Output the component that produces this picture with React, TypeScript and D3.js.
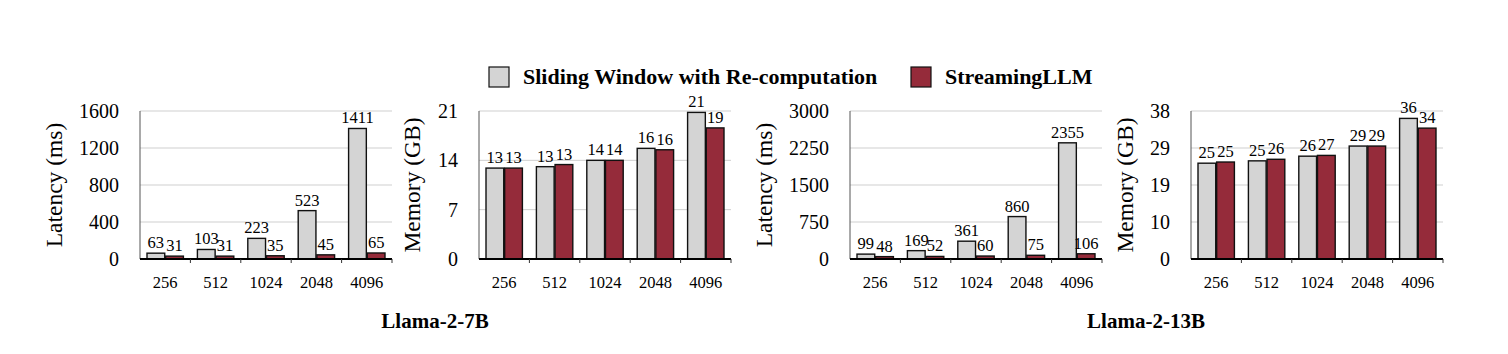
import React, { useEffect, useRef } from "react";
import * as d3 from "d3";

// sequence lengths
const categories = ["256", "512", "1024", "2048", "4096"];
const seriesNames = ["Sliding Window with Re-computation", "StreamingLLM"];
const seriesColors = ["#d4d4d4", "#952b3a"];

// Llama-2-7B
const latency7BSliding = [63, 103, 223, 523, 1411];
const latency7BStreaming = [31, 31, 35, 45, 65];
const memory7BSliding = [12.9, 13.1, 14.0, 15.7, 20.8];
const memory7BStreaming = [12.9, 13.4, 14.0, 15.5, 18.6];

// Llama-2-13B
const latency13BSliding = [99, 169, 361, 860, 2355];
const latency13BStreaming = [48, 52, 60, 75, 106];
const memory13BSliding = [24.6, 25.2, 26.4, 29.0, 36.1];
const memory13BStreaming = [24.9, 25.6, 26.6, 29.0, 33.6];

const latency7BTicks = [0, 400, 800, 1200, 1600];
const memory7BTicks = [0, 7, 14, 21];
const latency13BTicks = [0, 750, 1500, 2250, 3000];
const memory13BTicks = [0, 9.5, 19, 28.5, 38];

const panels = [
  { left: 140, yLabel: "Latency (ms)", labelOffset: -78, ticks: latency7BTicks, series: [latency7BSliding, latency7BStreaming] },
  { left: 479, yLabel: "Memory (GB)", labelOffset: -59, ticks: memory7BTicks, series: [memory7BSliding, memory7BStreaming] },
  { left: 850, yLabel: "Latency (ms)", labelOffset: -78, ticks: latency13BTicks, series: [latency13BSliding, latency13BStreaming] },
  { left: 1191, yLabel: "Memory (GB)", labelOffset: -58, ticks: memory13BTicks, series: [memory13BSliding, memory13BStreaming] },
];

const titles = [
  { text: "Llama-2-7B", x: 435 },
  { text: "Llama-2-13B", x: 1146 },
];

const FONT = "'Liberation Serif', 'Times New Roman', serif";

export default function App() {
  const ref = useRef<SVGSVGElement>(null);

  useEffect(() => {
    const svg = d3.select(ref.current);
    svg.selectAll("*").remove();

    const top = 111, bottom = 259, width = 252;

    panels.forEach(p => {
      const g = svg.append("g").attr("transform", `translate(${p.left},0)`);
      const maxV = p.ticks[p.ticks.length - 1];
      const y = d3.scaleLinear().domain([0, maxV]).range([bottom, top]);
      const x0 = d3.scaleBand().domain(categories).range([0, width]);
      const x1 = d3.scaleBand()
        .domain(d3.range(seriesNames.length).map(String))
        .range([7, x0.bandwidth() - 7])
        .paddingInner(0.05);

      // gridlines
      g.selectAll(".grid")
        .data(p.ticks.slice(1))
        .enter().append("line")
        .attr("x1", 0).attr("x2", width)
        .attr("y1", d => y(d)).attr("y2", d => y(d))
        .style("stroke", "#cfcfcf")
        .style("stroke-width", 1);

      // y tick labels
      g.selectAll(".ytick")
        .data(p.ticks)
        .enter().append("text")
        .attr("x", -21)
        .attr("y", d => y(d))
        .attr("dy", "0.35em")
        .style("text-anchor", "end")
        .style("font-family", FONT)
        .style("font-size", "20px")
        .text(d => Math.round(d));

      // y axis title
      g.append("text")
        .attr("transform", `translate(${p.labelOffset},${(top + bottom) / 2}) rotate(-90)`)
        .style("text-anchor", "middle")
        .style("font-family", FONT)
        .style("font-size", "23.5px")
        .text(p.yLabel);

      // bars
      p.series.forEach((vals, si) => {
        g.selectAll(`.bar${si}`)
          .data(vals)
          .enter().append("rect")
          .attr("x", (d, i) => x0(categories[i])! + x1(String(si))!)
          .attr("y", d => y(d))
          .attr("width", x1.bandwidth())
          .attr("height", d => bottom - y(d))
          .style("fill", seriesColors[si])
          .style("stroke", "#111")
          .style("stroke-width", 1.4);

        g.selectAll(`.lab${si}`)
          .data(vals)
          .enter().append("text")
          .attr("x", (d, i) => x0(categories[i])! + x1(String(si))! + x1.bandwidth() / 2)
          .attr("y", d => y(d) - 5)
          .style("text-anchor", "middle")
          .style("font-family", FONT)
          .style("font-size", "16.5px")
          .text(d => Math.round(d));
      });

      // y axis line
      g.append("line")
        .attr("x1", 0).attr("x2", 0)
        .attr("y1", top).attr("y2", bottom)
        .style("stroke", "#555")
        .style("stroke-width", 1);

      // baseline
      g.append("line")
        .attr("x1", 0).attr("x2", width)
        .attr("y1", bottom).attr("y2", bottom)
        .style("stroke", "#000")
        .style("stroke-width", 2);

      // category boundary ticks
      g.selectAll(".xtickmark")
        .data(categories)
        .enter().append("line")
        .attr("x1", d => x0(d)! + x0.bandwidth())
        .attr("x2", d => x0(d)! + x0.bandwidth())
        .attr("y1", bottom).attr("y2", bottom + 4)
        .style("stroke", "#333")
        .style("stroke-width", 1);

      // x tick labels
      g.selectAll(".xtick")
        .data(categories)
        .enter().append("text")
        .attr("x", d => x0(d)! + x0.bandwidth() / 2)
        .attr("y", bottom + 29)
        .style("text-anchor", "middle")
        .style("font-family", FONT)
        .style("font-size", "16.5px")
        .text(d => d);
    });

    // titles
    svg.selectAll(".title")
      .data(titles)
      .enter().append("text")
      .attr("x", d => d.x)
      .attr("y", 328)
      .style("text-anchor", "middle")
      .style("font-family", FONT)
      .style("font-weight", "bold")
      .style("font-size", "21px")
      .text(d => d.text);

    // legend
    const legendX = [489, 911];
    seriesNames.forEach((name, i) => {
      svg.append("rect")
        .attr("x", legendX[i]).attr("y", 67)
        .attr("width", 20).attr("height", 20)
        .style("fill", seriesColors[i])
        .style("stroke", "#111")
        .style("stroke-width", 1.2);
      svg.append("text")
        .attr("x", legendX[i] + 34).attr("y", 84)
        .style("font-family", FONT)
        .style("font-weight", "bold")
        .style("font-size", "22px")
        .text(name);
    });
  }, []);

  return (
    <svg
      ref={ref}
      width={1508}
      height={354}
      style={{ position: "absolute", left: 0, top: 0, background: "#fff" }}
    />
  );
}
